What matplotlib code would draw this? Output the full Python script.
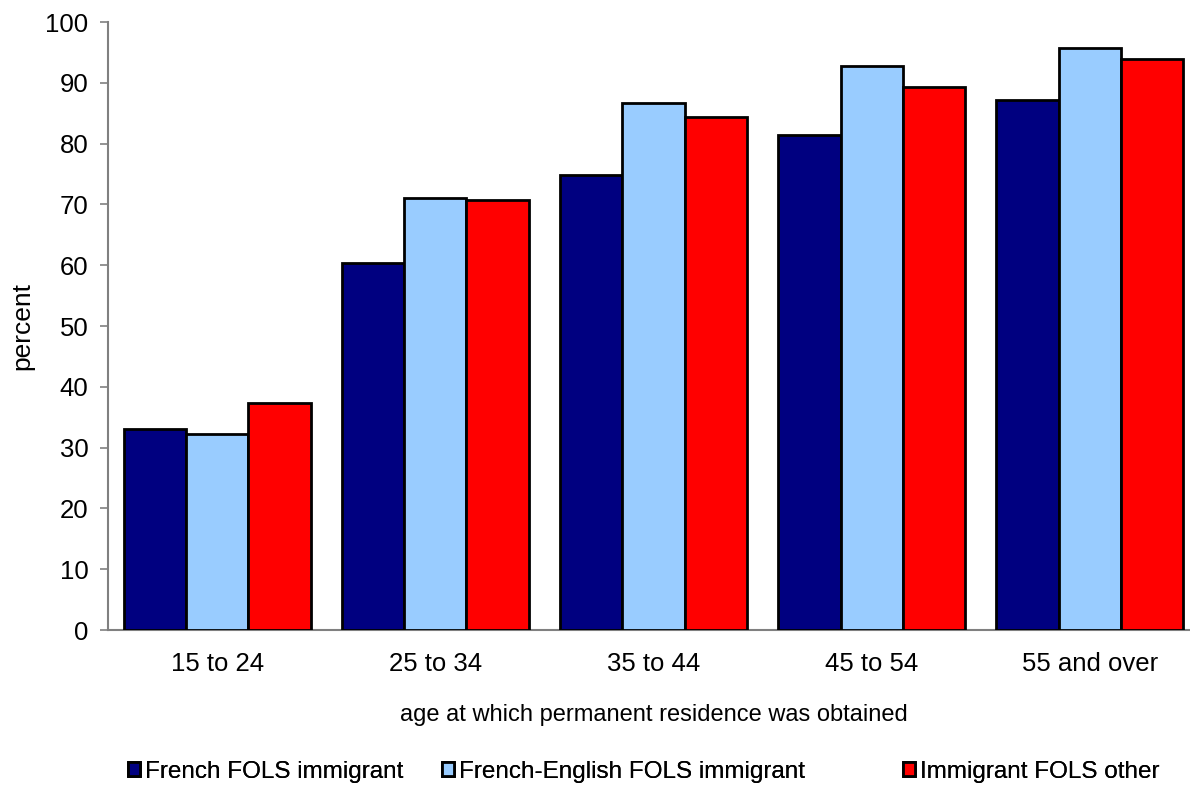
import numpy as np
import matplotlib.pyplot as plt

plt.rcParams['font.family'] = ['Liberation Sans', 'DejaVu Sans']

# data
age_groups = ['15 to 24', '25 to 34', '35 to 44', '45 to 54', '55 and over']
french_fols = [33.1, 60.4, 74.8, 81.4, 87.2]
french_english_fols = [32.2, 71.0, 86.7, 92.8, 95.7]
other_fols = [37.4, 70.7, 84.4, 89.3, 93.9]

series = [
    ('French FOLS immigrant', french_fols, '#000080'),
    ('French-English FOLS immigrant', french_english_fols, '#99CCFF'),
    ('Immigrant FOLS other', other_fols, '#FF0000'),
]

fig = plt.figure(figsize=(11.9, 7.98), dpi=100)
# right edge of the plot area runs past the figure
ax = fig.add_axes([108 / 1190, 1 - 630 / 798, 1091 / 1190, 608 / 798])

x = np.arange(len(age_groups))
w = 0.2857
handles = []
for i, (name, vals, col) in enumerate(series):
    b = ax.bar(x + (i - 1) * w, vals, width=w, color=col, edgecolor='black',
               linewidth=2, label=name, zorder=3)
    handles.append(b)

ax.set_xlim(-0.5, len(age_groups) - 0.5)
ax.set_ylim(0, 100)
ax.set_yticks(range(0, 101, 10))
ax.set_xticks(x)
ax.set_xticklabels(age_groups)
ax.tick_params(axis='x', length=0, pad=16, labelsize=18.5)
ax.tick_params(axis='y', length=6, color='#808080', width=1.2, pad=8,
               labelsize=18.5, direction='out')

for s in ['top', 'right']:
    ax.spines[s].set_visible(False)
for s in ['left', 'bottom']:
    ax.spines[s].set_color('#808080')
    ax.spines[s].set_linewidth(1.5)

ax.set_ylabel('percent', fontsize=19, labelpad=8)
ax.set_xlabel('age at which permanent residence was obtained', fontsize=17,
              labelpad=20)

# one legend box per entry so the spacing can be set freely
legend_x = [116, 430, 891]
for h, (name, _, _), lx in zip(handles, series, legend_x):
    leg = fig.legend([h], [name], loc='center left',
                     bbox_to_anchor=(lx / 1190, 1 - 772 / 798),
                     frameon=False, fontsize=17.5, handlelength=0.5,
                     handleheight=0.5, handletextpad=0.2, borderpad=0)
    fig.add_artist(leg)

fig.savefig('out.png', dpi=100)
